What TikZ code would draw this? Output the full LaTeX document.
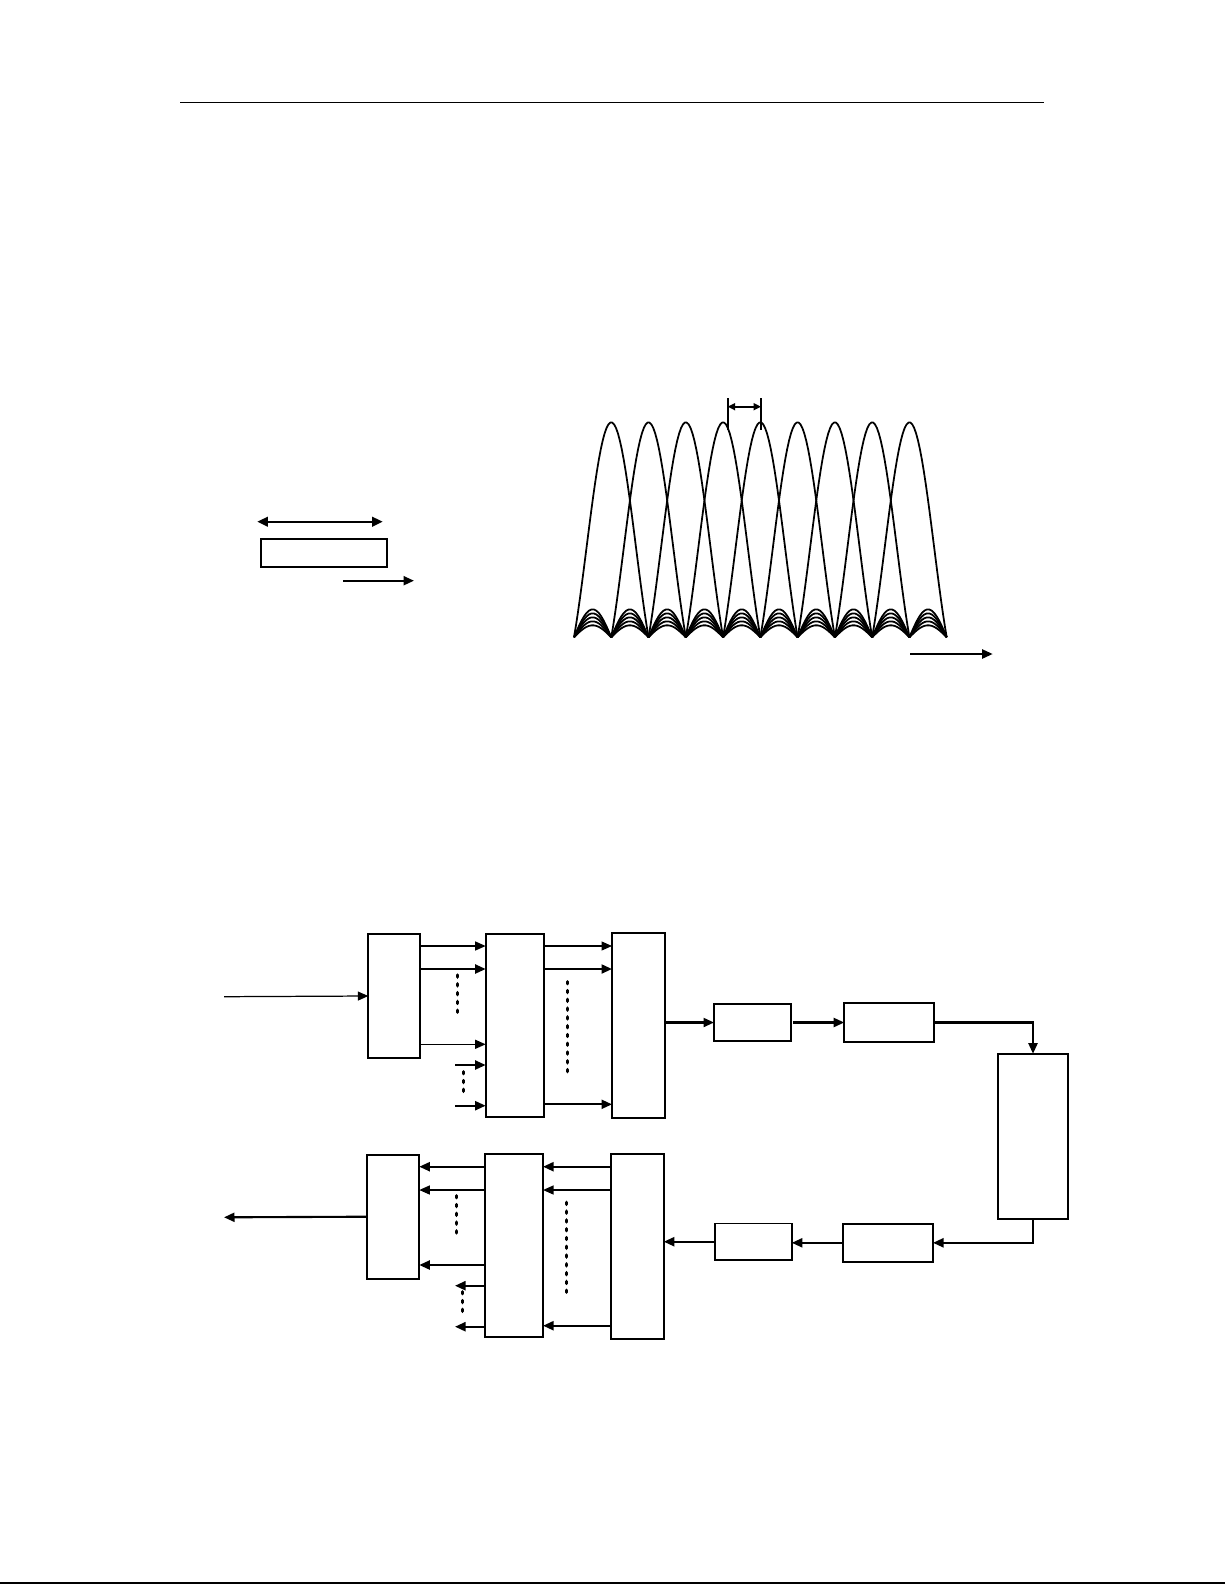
\documentclass[tikz,border=0pt]{standalone}
\usepackage{tikz}
\usetikzlibrary{arrows.meta, positioning, calc}

\begin{document}
\begin{tikzpicture}[
    x=0.02cm, y=-0.02cm,
    % Styles
    blk/.style={draw, line width=1.1pt, inner sep=0pt, outer sep=0pt},
    convbox/.style={blk, minimum width=1.04cm, minimum height=2.48cm},
    fftbox/.style={blk, minimum width=1.17cm, minimum height=3.65cm},
    psbox/.style={blk, minimum width=1.06cm, minimum height=3.71cm},
    smallbox/.style={blk, minimum width=1.54cm, minimum height=0.73cm},
    widebox/.style={blk, minimum width=1.8cm, minimum height=0.77cm},
    chanbox/.style={blk, minimum width=1.41cm, minimum height=3.3cm},
    sig/.style={line width=0.7pt, -{Triangle[length=2.1mm, width=1.8mm]}},
    sigb/.style={line width=1.2pt, -{Triangle[length=2.1mm, width=1.8mm]}},
    dotcol/.style={line width=1.9pt, line cap=round, dash pattern=on 1.2pt off 3.8pt},
    lobe/.style={line width=1pt, line join=round}
]
    \useasboundingbox (0,0) rectangle (1225,1585);

    % Page rules
    \coordinate (rulel) at (180,102.3);
    \coordinate (ruler) at (1043.7,102.3);
    \draw[line width=0.7pt] (rulel) -- (ruler);
    \coordinate (footl) at (0,1583);
    \coordinate (footr) at (1225,1583);
    \draw[line width=0.7pt] (footl) -- (footr);

    % Single symbol
    \node[blk, minimum width=2.52cm, minimum height=0.56cm] (symbol) at (323.7,552.7) {};
    \coordinate (durl) at (257.3,521.7);
    \coordinate (durr) at (382.7,521.7);
    \draw[line width=1.2pt, {Triangle[length=2.1mm, width=1.9mm]}-{Triangle[length=2.1mm, width=1.9mm]}] (durl) -- (durr);
    \coordinate (tl) at (343.3,580.7);
    \coordinate (tr) at (414,580.7);
    \draw[sigb] (tl) -- (tr);

    % Subcarrier spectra
    \def\sp{37.27}
    \foreach \i in {1,...,9}
        \draw[lobe] plot[domain=-1:1, samples=40]
            ({574+\sp*(\i+\x)}, {637.3-215*sin(180*\x)/(pi*\x)});
    \foreach \k in {0,...,9}
        \foreach \h in {28,24,20,16,12}
            \draw[lobe] plot[domain=0:1, samples=16]
                ({574+\sp*(\k+\x)}, {637.3-\h*sin(180*\x)});

    % Subcarrier spacing
    \coordinate (spl) at (727.7,398.3);
    \coordinate (spr) at (761,398.3);
    \draw[line width=1.2pt] (spl) -- ++(0,31.7);
    \draw[line width=1.2pt] (spr) -- ++(0,31.7);
    \draw[line width=1.1pt, {Triangle[length=1.5mm, width=1.4mm]}-{Triangle[length=1.5mm, width=1.4mm]}]
        ($(spl)+(0,8.4)$) -- ($(spr)+(0,8.4)$);
    \coordinate (fl) at (910,654);
    \coordinate (fr) at (992.7,654);
    \draw[sigb] (fl) -- (fr);

    % Transmitter
    \node[convbox] (s2p) at (394.3,996) {};
    \node[fftbox] (ifft) at (514.9,1025.5) {};
    \node[psbox] (p2s) at (638.5,1025.5) {};
    \node[smallbox] (cp) at (752.5,1022.5) {};
    \node[widebox] (da) at (889.2,1022.5) {};

    % Channel
    \node[chanbox] (chan) at (1033,1136.2) {};

    % Receiver
    \node[widebox] (ad) at (888,1242.8) {};
    \node[smallbox] (rmcp) at (753.3,1241.7) {};
    \node[psbox] (s2prx) at (637.3,1246.3) {};
    \node[fftbox] (fft) at (513.8,1245.5) {};
    \node[convbox] (p2srx) at (393.3,1216.7) {};

    % Transmitter connections
    \coordinate (in) at (224,996.7);
    \draw[sig] (in) -- (s2p.west);
    \draw[sig] (s2p.east |- 0,946) -- (ifft.west |- 0,946);
    \draw[sigb] (s2p.east |- 0,969) -- (ifft.west |- 0,969);
    \draw[sig] (s2p.east |- 0,1044.3) -- (ifft.west |- 0,1044.3);
    \draw[dotcol] (457.7,975) -- (457.7,1018.3);
    \coordinate (pa) at (455,1065);
    \coordinate (pb) at (455,1105.7);
    \draw[sigb] (pa) -- (ifft.west |- pa);
    \draw[sigb] (pb) -- (ifft.west |- pb);
    \draw[dotcol] (463.3,1071.7) -- (463.3,1095);
    \draw[sig] (ifft.east |- 0,946) -- (p2s.west |- 0,946);
    \draw[sigb] (ifft.east |- 0,969) -- (p2s.west |- 0,969);
    \draw[sigb] (ifft.east |- 0,1104.3) -- (p2s.west |- 0,1104.3);
    \draw[dotcol] (567.7,981.7) -- (567.7,1075);
    \draw[sigb] (p2s.east |- cp.west) -- (cp.west);
    \draw[sigb] (cp.east) ++(2.3,0) -- (da.west);
    \draw[sigb] (da.east) -| (chan.north);

    % Receiver connections
    \draw[sigb] (chan.south) |- (ad.east);
    \draw[sigb] (ad.west) -- (rmcp.east |- ad.west);
    \draw[sigb] (rmcp.west) -- (s2prx.east |- rmcp.west);
    \draw[sigb] (s2prx.west |- 0,1166.7) -- (fft.east |- 0,1166.7);
    \draw[sig] (s2prx.west |- 0,1190) -- (fft.east |- 0,1190);
    \draw[sigb] (s2prx.west |- 0,1325.7) -- (fft.east |- 0,1325.7);
    \draw[dotcol] (566.7,1202.3) -- (566.7,1294.3);
    \draw[sigb] (fft.west |- 0,1166.7) -- (p2srx.east |- 0,1166.7);
    \draw[sig] (fft.west |- 0,1190) -- (p2srx.east |- 0,1190);
    \draw[sigb] (fft.west |- 0,1265) -- (p2srx.east |- 0,1265);
    \draw[dotcol] (456.7,1195.7) -- (456.7,1238.3);
    \coordinate (qa) at (455,1285.7);
    \coordinate (qb) at (455,1326.7);
    \draw[sigb] (fft.west |- qa) -- (qa);
    \draw[sigb] (fft.west |- qb) -- (qb);
    \draw[dotcol] (462.3,1291.7) -- (462.3,1315);
    \coordinate (out) at (224,1217.3);
    \draw[sigb] (p2srx.west) -- (out);
\end{tikzpicture}
\end{document}
